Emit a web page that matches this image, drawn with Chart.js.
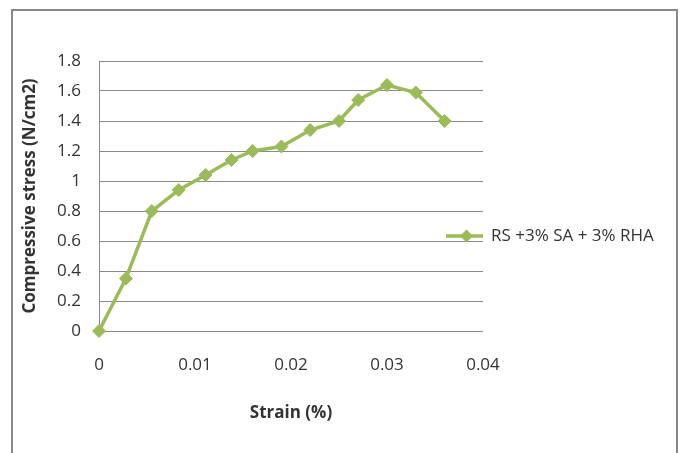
<!DOCTYPE html>
<html>
<head>
<meta charset="utf-8">
<script src="https://cdn.jsdelivr.net/npm/chart.js@4/dist/chart.umd.min.js"></script>
<style>
  html, body { margin: 0; padding: 0; background: #ffffff; }
  #wrap { width: 681px; height: 453px; position: relative; }
</style>
</head>
<body>
<div id="wrap"><canvas id="c" width="681" height="453"></canvas></div>
<script>
// Strain (%) readings and the matching compressive stress (N/cm2)
const strain = [0, 0.0028, 0.0055, 0.0083, 0.0111, 0.0138, 0.016, 0.019, 0.022, 0.025, 0.027, 0.030, 0.033, 0.036];
const stress = [0, 0.35, 0.80, 0.94, 1.04, 1.14, 1.20, 1.23, 1.34, 1.40, 1.54, 1.64, 1.59, 1.40];
const seriesName = 'RS +3% SA + 3% RHA';

// Axis ticks
const xTicks = [0, 0.01, 0.02, 0.03, 0.04];
const yTicks = [0, 0.2, 0.4, 0.6, 0.8, 1, 1.2, 1.4, 1.6, 1.8];

const xTitle = 'Strain (%)';
const yTitle = 'Compressive stress (N/cm2)';

const GREEN = '#9bbb59';
const GRID = '#8a8a8a';
const TEXT = '#333333';
const FONT = "'Open Sans', 'Liberation Sans', sans-serif";

// Frame around the whole chart
const framePlugin = {
  id: 'frame',
  beforeDraw(chart) {
    const ctx = chart.ctx;
    ctx.save();
    ctx.fillStyle = '#ffffff';
    ctx.fillRect(0, 0, chart.width, chart.height);
    ctx.strokeStyle = '#888888';
    ctx.lineWidth = 2;
    ctx.strokeRect(12, 10, 665, 470);
    ctx.restore();
  }
};

// Legend entry: line with diamond marker, then the series name
const legendPlugin = {
  id: 'sideLegend',
  afterDraw(chart) {
    const ds = chart.data.datasets[0];
    const ctx = chart.ctx;
    const area = chart.chartArea;
    const y = area.top + (area.bottom - area.top) * 0.648;
    const x0 = area.right - 37, x1 = area.right;
    const xm = (x0 + x1) / 2 + 2;
    ctx.save();
    ctx.strokeStyle = ds.borderColor;
    ctx.lineWidth = ds.borderWidth;
    ctx.beginPath();
    ctx.moveTo(x0, y);
    ctx.lineTo(x1, y);
    ctx.stroke();
    const r = ds.pointRadius;
    ctx.fillStyle = ds.pointBackgroundColor;
    ctx.beginPath();
    ctx.moveTo(xm, y - r);
    ctx.lineTo(xm + r, y);
    ctx.lineTo(xm, y + r);
    ctx.lineTo(xm - r, y);
    ctx.closePath();
    ctx.fill();
    ctx.fillStyle = TEXT;
    ctx.font = '17px ' + FONT;
    ctx.textAlign = 'left';
    ctx.textBaseline = 'middle';
    ctx.fillText(ds.label, x1 + 8, y);
    ctx.restore();
  }
};

new Chart(document.getElementById('c'), {
  type: 'scatter',
  data: {
    datasets: [{
      label: seriesName,
      data: strain.map((s, i) => ({ x: s, y: stress[i] })),
      showLine: true,
      clip: false,
      borderColor: GREEN,
      backgroundColor: GREEN,
      borderWidth: 3.5,
      pointStyle: 'rectRot',
      pointRadius: 6.5,
      pointBackgroundColor: GREEN,
      pointBorderColor: GREEN,
      pointBorderWidth: 1,
      tension: 0
    }]
  },
  options: {
    responsive: false,
    animation: false,
    devicePixelRatio: 1,
    layout: { padding: { left: 14, top: 61, right: 198, bottom: 0 } },
    plugins: {
      legend: { display: false },
      tooltip: { enabled: false }
    },
    scales: {
      x: {
        type: 'linear',
        min: 0,
        max: 0.04,
        afterBuildTicks(scale) { scale.ticks = xTicks.map(v => ({ value: v })); },
        afterFit(scale) { scale.height = 122; },
        grid: { display: false, drawTicks: false },
        border: { display: false },
        ticks: {
          padding: 24,
          color: TEXT,
          font: { family: FONT, size: 17 },
          callback: v => String(v)
        },
        title: {
          display: true,
          text: xTitle,
          color: TEXT,
          font: { family: FONT, size: 17, weight: 'bold' },
          padding: { top: 0, bottom: 30 }
        }
      },
      y: {
        type: 'linear',
        min: 0,
        max: 1.8,
        afterBuildTicks(scale) { scale.ticks = yTicks.map(v => ({ value: v })); },
        afterFit(scale) { scale.width = 85; },
        grid: { color: GRID, lineWidth: 1, drawTicks: false },
        border: { display: true, color: GRID, width: 1 },
        ticks: {
          padding: 18,
          color: TEXT,
          font: { family: FONT, size: 17 },
          callback: v => String(v)
        },
        title: {
          display: true,
          text: yTitle,
          color: TEXT,
          font: { family: FONT, size: 17, weight: 'bold' },
          padding: { top: 6, bottom: 0 }
        }
      }
    }
  },
  plugins: [framePlugin, legendPlugin]
});
</script>
</body>
</html>
